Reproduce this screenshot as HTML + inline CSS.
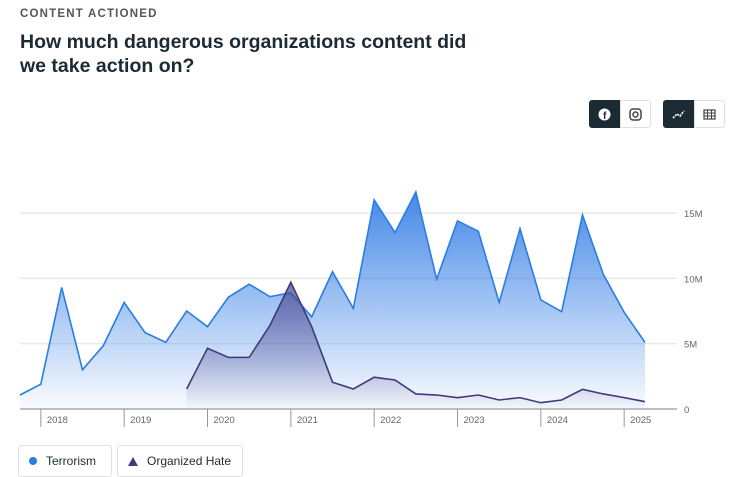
<!DOCTYPE html>
<html><head><meta charset="utf-8"><style>
body{margin:0;width:744px;height:475px;background:#fff;font-family:"Liberation Sans",sans-serif;overflow:hidden;position:relative}
.eyebrow{position:absolute;left:20px;top:8px;font-size:11.5px;letter-spacing:1.2px;color:#555;font-weight:bold}
h1{position:absolute;left:20px;top:30px;margin:0;font-size:19.5px;font-weight:600;line-height:24px;color:#1c2b33;width:462px}
.btn{position:absolute;top:100px;height:28px;width:31px;border:1px solid #dde1e4;box-sizing:border-box;display:flex;align-items:center;justify-content:center}
.dark{background:#1c2b33;border-color:#1c2b33}
.leg{position:absolute;top:445px;height:32px;border:1px solid #dde1e4;border-radius:3px;box-sizing:border-box;display:flex;align-items:center;font-size:12px;color:#1c2b33;padding:0 10px}
</style></head><body>
<div class="eyebrow">CONTENT ACTIONED</div>
<h1>How much dangerous organizations content did we take action on?</h1>
<div class="btn dark" style="left:589px;border-radius:3px 0 0 3px"><svg width="13" height="13"><circle cx="6.5" cy="6.5" r="6" fill="#fff"/><text x="5" y="11" font-size="10" font-weight="bold" fill="#1c2b33" font-family="Liberation Sans">f</text></svg></div>
<div class="btn" style="left:620px;border-radius:0 3px 3px 0"><svg width="13" height="13"><rect x="1" y="1" width="11" height="11" rx="3" fill="none" stroke="#444" stroke-width="1.5"/><circle cx="6.5" cy="6.5" r="2.5" fill="none" stroke="#444" stroke-width="1.5"/></svg></div>
<div class="btn dark" style="left:663px;border-radius:3px 0 0 3px"><svg width="13" height="11"><polyline points="1,9 5,5 8,7 12,2" fill="none" stroke="#fff" stroke-width="1.6" stroke-dasharray="2 1"/></svg></div>
<div class="btn" style="left:694px;border-radius:0 3px 3px 0"><svg width="13" height="11"><rect x="1" y="1" width="11" height="9" fill="none" stroke="#444" stroke-width="1.2"/><path d="M1 4H12M1 7H12M4.5 1V10M8.5 1V10" stroke="#444" stroke-width="1"/></svg></div>
<svg id="chart" width="744" height="440" style="position:absolute;left:0;top:0">
<defs>
<linearGradient id="gT" x1="0" y1="0" x2="0" y2="1"><stop offset="0" stop-color="#3b82e6" stop-opacity="0.95"/><stop offset="1" stop-color="#3b82e6" stop-opacity="0.03"/></linearGradient>
<linearGradient id="gH" x1="0" y1="0" x2="0" y2="1"><stop offset="0" stop-color="#4a4890" stop-opacity="0.75"/><stop offset="1" stop-color="#4a4890" stop-opacity="0.02"/></linearGradient>
</defs>
</svg>
<div class="leg" style="left:18px;width:94px"><span style="display:inline-block;width:8px;height:8px;border-radius:50%;background:#2a7de1;margin-right:9px"></span>Terrorism</div>
<div class="leg" style="left:117px;width:126px"><svg width="10" height="9" style="margin-right:9px"><polygon points="5,0 10,9 0,9" fill="#3d3b7a"/></svg>Organized Hate</div>
<script>
const years=["2018","2019","2020","2021","2022","2023","2024","2025"];
const yTicks=[0,5,10,15];
const yTickLabels=["0","5M","10M","15M"];
const terrorism=[1.07,1.9,9.3,3.0,4.85,8.15,5.85,5.1,7.5,6.3,8.55,9.55,8.6,8.9,7.05,10.5,7.7,16.0,13.5,16.6,9.93,14.4,13.6,8.15,13.8,8.35,7.45,14.85,10.3,7.4,5.1];
const organizedHate=[null,null,null,null,null,null,null,null,1.53,4.65,3.95,3.95,6.4,9.7,6.3,2.05,1.53,2.43,2.22,1.15,1.07,0.87,1.07,0.69,0.87,0.48,0.69,1.5,1.15,0.87,0.56];
const NS="http://www.w3.org/2000/svg";
const svg=document.getElementById('chart');
const x=i=>20+i*(625/30);
const y=v=>409-v*(196/15);
function mk(t,a){const e=document.createElementNS(NS,t);for(const k in a)e.setAttribute(k,a[k]);svg.appendChild(e);return e;}
document.getElementById('gT').setAttribute('gradientUnits','userSpaceOnUse');
document.getElementById('gT').setAttribute('y1',y(16.6));document.getElementById('gT').setAttribute('y2',409);
yTicks.forEach((v,i)=>{
 if(v>0){const g=mk('line',{x1:20,x2:677,y1:y(v),y2:y(v),stroke:'#e6e8ea','stroke-width':1.5});
 
 }
 const t=mk('text',{x:684,y:y(v)+4,'font-size':9.5,fill:'#666','font-family':'Liberation Sans'});t.textContent=yTickLabels[i];
 
 
});
function series(arr,fill,stroke,name){
 const idx=arr.map((v,i)=>v==null?null:i).filter(i=>i!=null);
 const pts=idx.map(i=>x(i)+','+y(arr[i])).join(' ');
 const a=mk('polygon',{points:pts+' '+x(idx[idx.length-1])+',409 '+x(idx[0])+',409',fill:fill});
 
 
 const l=mk('polyline',{points:pts,fill:'none',stroke:stroke,'stroke-width':1.6,'stroke-linejoin':'miter'});
 
 
}
series(terrorism,'url(#gT)','#2a7de1','terrorism');
series(organizedHate,'url(#gH)','#3d3b7a','organized-hate');
const ax=mk('line',{x1:20,x2:677,y1:409,y2:409,stroke:'#999','stroke-width':1.2});


years.forEach((yr,i)=>{
 const xp=x(1+i*4);
 const tk=mk('line',{x1:xp,x2:xp,y1:409,y2:427,stroke:'#999','stroke-width':1});
 
 
 const t=mk('text',{x:xp+6,y:423,'font-size':9.5,fill:'#666','font-family':'Liberation Sans'});t.textContent=yr;
 
 
});
</script>
</body></html>
